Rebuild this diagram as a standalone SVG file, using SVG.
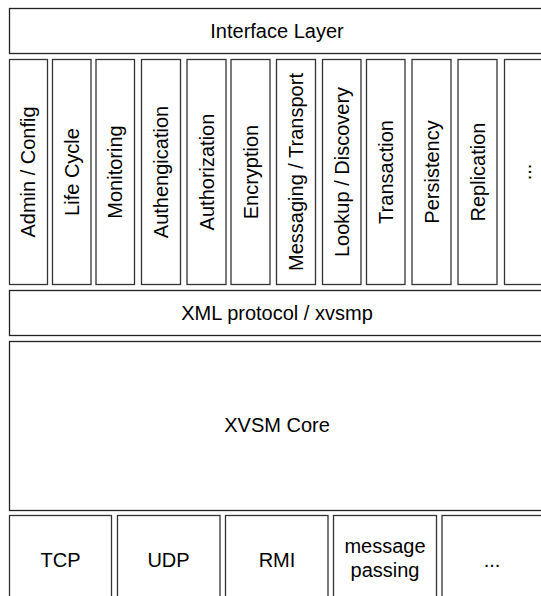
<svg xmlns="http://www.w3.org/2000/svg" width="541" height="596" viewBox="0 0 541 596">
<style>
.box{fill:#fff;stroke:#222;stroke-width:1.3}
.col{fill:#fff;stroke:#333;stroke-width:1.3}
text{font-family:"Liberation Sans",Arial,sans-serif;font-size:20px;fill:#000;text-anchor:middle}
</style>
<rect width="541" height="596" fill="#fff"/>
<g id="interface-layer"><rect class="box" x="9.5" y="8.5" width="540" height="45"/><text x="277" y="38">Interface Layer</text></g>
<g id="col-admin"><rect class="col" x="9.5" y="59.5" width="38" height="225"/><text transform="translate(35,172) rotate(-90)">Admin / Config</text></g>
<g id="col-lifecycle"><rect class="col" x="52.5" y="59.5" width="38.5" height="225"/><text transform="translate(78.5,172) rotate(-90)">Life Cycle</text></g>
<g id="col-monitoring"><rect class="col" x="96" y="59.5" width="38.5" height="225"/><text transform="translate(122,172) rotate(-90)">Monitoring</text></g>
<g id="col-authengication"><rect class="col" x="141.5" y="59.5" width="39" height="225"/><text transform="translate(168,172) rotate(-90)">Authengication</text></g>
<g id="col-authorization"><rect class="col" x="187" y="59.5" width="39" height="225"/><text transform="translate(213.5,172) rotate(-90)">Authorization</text></g>
<g id="col-encryption"><rect class="col" x="231" y="59.5" width="39" height="225"/><text transform="translate(257.5,172) rotate(-90)">Encryption</text></g>
<g id="col-messaging"><rect class="col" x="276.5" y="59.5" width="39" height="225"/><text transform="translate(303,172) rotate(-90)">Messaging / Transport</text></g>
<g id="col-lookup"><rect class="col" x="322.5" y="59.5" width="38.5" height="225"/><text transform="translate(348.5,172) rotate(-90)">Lookup / Discovery</text></g>
<g id="col-transaction"><rect class="col" x="366.5" y="59.5" width="38.5" height="225"/><text transform="translate(392.5,172) rotate(-90)">Transaction</text></g>
<g id="col-persistency"><rect class="col" x="412" y="59.5" width="39" height="225"/><text transform="translate(438.5,172) rotate(-90)">Persistency</text></g>
<g id="col-replication"><rect class="col" x="458" y="59.5" width="39" height="225"/><text transform="translate(484.5,172) rotate(-90)">Replication</text></g>
<g id="col-more"><rect class="col" x="504.5" y="59.5" width="39" height="225"/><text transform="translate(531,172) rotate(-90)">...</text></g>
<g id="xml-protocol"><rect class="box" x="9.5" y="290.5" width="540" height="45"/><text x="277" y="320">XML protocol / xvsmp</text></g>
<g id="xvsm-core"><rect class="box" x="9.5" y="341.5" width="540" height="169"/><text x="277" y="432">XVSM Core</text></g>
<g id="tcp"><rect class="col" x="9.5" y="515.5" width="102" height="90"/><text x="60.5" y="567">TCP</text></g>
<g id="udp"><rect class="col" x="117.5" y="515.5" width="102.5" height="90"/><text x="168.5" y="567">UDP</text></g>
<g id="rmi"><rect class="col" x="225.5" y="515.5" width="102.5" height="90"/><text x="277" y="567">RMI</text></g>
<g id="message-passing"><rect class="col" x="333.5" y="515.5" width="103" height="90"/><text x="385" y="553">message</text><text x="385" y="577">passing</text></g>
<g id="transport-more"><rect class="col" x="442" y="515.5" width="103" height="90"/><text x="492" y="567">...</text></g>
<g id="connectors"/>
</svg>
